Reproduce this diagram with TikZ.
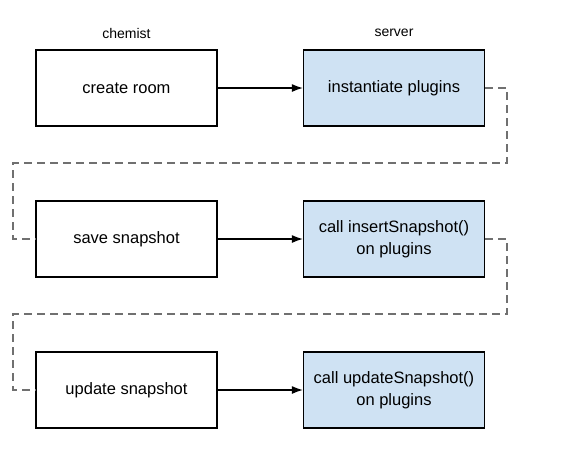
\documentclass[tikz,border=0pt]{standalone}
\usepackage{fontspec}
\setmainfont{Liberation Sans}
\usetikzlibrary{positioning,arrows.meta}
\definecolor{plugblue}{HTML}{CFE2F3}
\definecolor{loopgray}{HTML}{707070}

\begin{document}
\begin{tikzpicture}[x=1pt,y=-1pt,
	client/.style={draw, line width=1.3pt, minimum width=181pt, minimum height=76pt, align=center, font=\fontsize{16.5}{22}\selectfont},
	srv/.style={client, fill=plugblue},
	lane/.style={font=\fontsize{14}{16}\selectfont},
	flow/.style={-{Latex[length=11pt,width=8pt]}, line width=1.2pt},
	back/.style={draw=loopgray, dash pattern=on 8pt off 5pt, line width=1.2pt}]
	\useasboundingbox (0,0) rectangle (582,448);
	% columns
	\node[lane] (chemist) at (126.5,33) {chemist};
	\node[lane] (server) at (394,33) {server};
	% chemist side
	\node[client] (create) at (126.5,88) {create room};
	\node[client] (save) at (126.5,239) {save snapshot};
	\node[client] (update) at (126.5,390) {update snapshot};
	% server side
	\node[srv] (inst) at (394,88) {instantiate plugins};
	\node[srv] (insert) at (394,239) {call insertSnapshot()\\on plugins};
	\node[srv] (upd) at (394,390) {call updateSnapshot()\\on plugins};
	\draw[flow] (create) -- (inst);
	\draw[flow] (save) -- (insert);
	\draw[flow] (update) -- (upd);
	% dashed returns
	\coordinate (r1) at (507,163);
	\coordinate (l1) at (13,163);
	\coordinate (r2) at (507,314);
	\coordinate (l2) at (13,314);
	\draw[back] (inst.east) -| (r1) -- (l1) |- (save.west);
	\draw[back] (insert.east) -| (r2) -- (l2) |- (update.west);
\end{tikzpicture}
\end{document}
